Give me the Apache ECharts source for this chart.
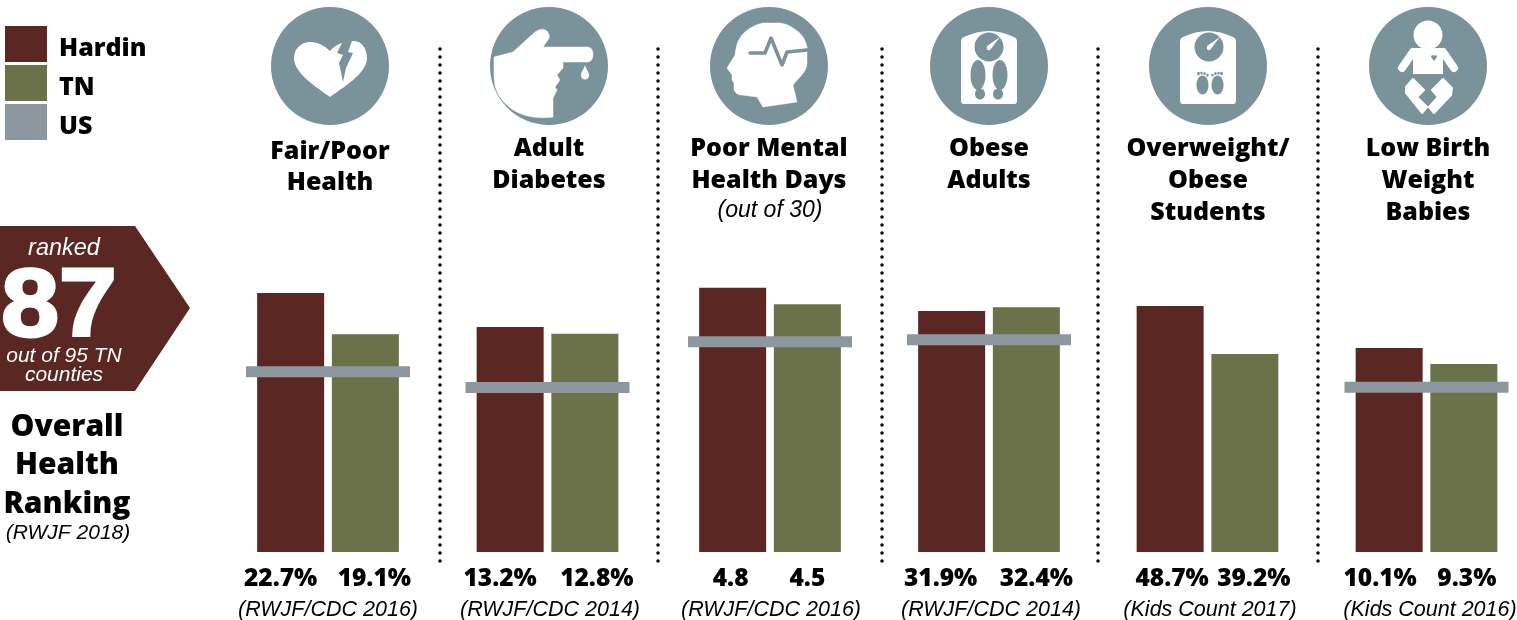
<!DOCTYPE html>
<html><head><meta charset="utf-8">
<style>html,body{margin:0;padding:0;background:#fff}#c{width:1517px;height:620px}</style>
<script src="https://cdn.jsdelivr.net/npm/echarts@6/dist/echarts.min.js"></script>
</head><body><div id="c"></div>
<script>
// ---- data ----
const seriesNames = ['Hardin', 'TN', 'US'];
const panels = ['Fair/Poor Health', 'Adult Diabetes', 'Poor Mental Health Days', 'Obese Adults', 'Overweight/Obese Students', 'Low Birth Weight Babies'];
const hardin = [22.7, 13.2, 4.8, 31.9, 48.7, 10.1];
const tn = [19.1, 12.8, 4.5, 32.4, 39.2, 9.3];
const us = [15.8, 9.65, 3.82, 28.1, null, 8.15];
const units = ['%', '%', '', '%', '%', '%'];
const sources = ['(RWJF/CDC 2016)', '(RWJF/CDC 2014)', '(RWJF/CDC 2016)', '(RWJF/CDC 2014)', '(Kids Count 2017)', '(Kids Count 2016)'];
const titleLines = [['Fair/Poor', 'Health'], ['Adult', 'Diabetes'], ['Poor Mental', 'Health Days'], ['Obese', 'Adults'], ['Overweight/', 'Obese', 'Students'], ['Low Birth', 'Weight', 'Babies']];

// ---- layout ----
const axisMax = [26.3, 17.6, 5.45, 39.7, 59.4, 14.85];
const gridLeft = [246, 465.5, 688, 907, 1125.5, 1344.5];
const labelDx = [[-10, 9], [-10, 12], [-2, 0], [-11, 10], [2, 9], [-9, 3]];
const iconX = [330, 549, 769, 989, 1208, 1428];
const titleY = [[152, 183], [149, 181], [149, 181], [149, 181], [149, 181, 213], [149, 181, 213]];
const sourceX = [328, 550, 771, 991, 1210, 1430];
const dividerX = [440, 658, 882, 1098, 1318];
const C = {h: '#5a2722', t: '#6b7149', u: '#8d979f', icon: '#7a9299'};
const HEAD = '"Open Sans", Lato, sans-serif';
const ARIAL = '"Liberation Sans", Arial, sans-serif';

const grid = [], xAxis = [], yAxis = [], series = [];
panels.forEach((p, i) => {
  grid.push({left: gridLeft[i], top: 252, width: 164, height: 300});
  xAxis.push({type: 'category', gridIndex: i, data: [p], show: false});
  yAxis.push({type: 'value', gridIndex: i, min: 0, max: axisMax[i], show: false});
  const bar = (name, vals, color, k) => ({
    name, type: 'bar', xAxisIndex: i, yAxisIndex: i, data: [vals[i]], barWidth: 67, barGap: '11.5%',
    itemStyle: {color}, silent: true,
    label: {show: true, position: 'bottom', distance: 15, offset: [labelDx[i][k], 0],
      formatter: () => vals[i].toFixed(1) + units[i],
      fontFamily: HEAD, fontWeight: 800, fontSize: 24.5, color: '#000', lineHeight: 24}
  });
  series.push(bar('Hardin', hardin, C.h, 0), bar('TN', tn, C.t, 1));
  series.push({name: 'US', type: 'line', xAxisIndex: i, yAxisIndex: i, data: [us[i]], z: 5, silent: true,
    symbol: 'rect', symbolSize: [164, 11], showSymbol: true, itemStyle: {color: C.u}, lineStyle: {width: 0}});
});

// ---- decoration ----
const txt = (t, x, y, font, size, weight, color, style, extra) => Object.assign({
  type: 'text', x, y, silent: true,
  style: {text: t, x: 0, y: 0, textAlign: 'center', textVerticalAlign: 'middle', fill: color || '#000',
    font: (style || 'normal') + ' ' + (weight || 'normal') + ' ' + size + 'px ' + font}
}, extra || {});
const white = '#fff', ic = C.icon;
let pathCount = 0;
const P = (d, fill, soft) => {
  const name = 'iconPath' + (pathCount++);
  echarts.graphic.registerShape(name, echarts.graphic.extendPath(d, {}));
  const f = fill || white;
  return {type: name, style: soft ? {fill: f, stroke: f, lineWidth: soft, lineJoin: 'round'} : {fill: f}, silent: true};
};
const E = (cx, cy, rx, ry, fill) => ({type: 'ellipse', shape: {cx, cy, rx, ry}, style: {fill: fill || white}, silent: true});
const L = (pts, w, col) => ({type: 'polyline', shape: {points: pts}, style: {stroke: col || ic, lineWidth: w, fill: null, lineCap: 'round', lineJoin: 'round'}, silent: true});
const scaleBody = 'M-25 -29 Q0 -41 25 -29 Q28 -28 28 -24 L28 35 Q28 38 25 38 L-25 38 Q-28 38 -28 35 L-28 -24 Q-28 -28 -25 -29 Z';
const gauge = (cx) => [E(cx, -19, 14.5, 14.5, ic), P(`M${cx - 2} -20 L${cx + 11} -29 L${cx + 1} -16 Q${cx - 3} -15 ${cx - 2} -20 Z`)];
const toes = (cx, dir) => [E(cx - 5 * dir, 9, 1.2, 1.6, ic), E(cx - 2 * dir, 7.5, 1.2, 1.6, ic), E(cx + 1 * dir, 7, 1.2, 1.6, ic), E(cx + 4 * dir, 7.5, 1.4, 1.8, ic)];

const icons = [
  // heart with bolt
  [P('M0 31 C-12 22 -36 8 -36 -8 C-36 -18 -28 -24 -20 -24 C-12 -24 -5 -20 0 -15 C3 -19 8 -22 14 -24 L24 -25 C31 -25 37 -18 37 -8 C37 8 12 22 0 31 Z'),
   P('M13 -25 L7 -13 L13 -11 L9 -3 L13 16 L16 2 L23 -13 L18 -14 L22 -25 Z', ic)],
  // hand with drop
  [P('M-55 -9 L-36 -14 L-14 -34 Q-7 -39 -2 -35 Q2 -30 -1 -26 L-6 -19 L39 -19 Q44 -18 44 -12 Q44 -5 39 -4 L14 -4 L14 2 L8 9 L11 14 L6 21 L8 24 L4 32 L4 51 Q-20 54 -36 44 Q-55 31 -55 11 Z', null, 0.5),
   P('M36 -1 C37 3 40 6 40 9 C40 12 38 13.5 36 13.5 C34 13.5 32 12 32 9 C32 6 35 3 36 -1 Z')],
  // head with pulse
  [P('M-6 -43 C-16 -41 -26 -34 -29 -28 C-33 -22 -33 -16 -34 -11 L-42 2 L-37 9 L-37 14 L-35 17 L-35 24 Q-33 29 -27 29 L-12 31 L-6 41 L28 36 L24 19 C30 11 38 6 38 -3 L38 -19 C36 -28 32 -33 24 -38 C20 -41 16 -42 11 -43 Z', null, 0.5),
   L([[-19, -13], [-4, -13], [2, -28], [13, -1], [18, -14], [38, -16]], 3.5)],
  // scale, big feet
  [P(scaleBody)].concat(gauge(0), [
   E(-11, 9, 7.5, 15, ic), E(11, 9, 7.5, 15, ic), E(-9, 28, 5, 5.5, ic), E(9, 28, 5, 5.5, ic)]),
  // scale, small feet
  [P(scaleBody)].concat(gauge(1), [
   E(-5.5, 19, 6, 9.5, ic), E(9.5, 19, 6, 9.5, ic)], toes(-5.5, -1), toes(9.5, 1)),
  // baby
  [E(0, -31, 14.5, 14.5),
   P('M-15 -18 L15 -18 L15 8 L-15 8 Z'),
   L([[-15, -14], [-26, 2]], 8, white), L([[15, -14], [26, 2]], 8, white),
   P('M6 -5 L3 -9 Q3 -11 5 -11 L6 -10 L7 -11 Q9 -11 9 -9 Z', ic),
   P('M-15 13 L-4 24 L-11 31 L-1 41 L-6 47 L-22 27 L-22 21 Z', null, 2),
   P('M15 13 L24 22 L23 29 L6 47 L1 41 L10 31 L4 24 Z', null, 2)]
];

const gfx = [];
gfx.push({type: 'polygon', silent: true, shape: {points: [[0, 226], [135, 226], [190, 308], [135, 391], [0, 391]]}, style: {fill: C.h}});
gfx.push(txt('ranked', 64, 248, ARIAL, 23.5, 'normal', '#fff', 'italic'));
const eightSeven = txt('87', 59, 309, ARIAL, 97, 'bold', '#fff', 'normal', {scaleX: 1.07});
eightSeven.style.stroke = '#fff'; eightSeven.style.lineWidth = 3;
gfx.push(eightSeven);
gfx.push(txt('out of 95 TN', 64, 356, ARIAL, 21, 'normal', '#fff', 'italic'));
gfx.push(txt('counties', 64, 375, ARIAL, 21, 'normal', '#fff', 'italic'));
['Overall', 'Health', 'Ranking'].forEach((t, k) => gfx.push(txt(t, 67, [427, 465, 504][k], HEAD, 30, 800)));
gfx.push(txt('(RWJF 2018)', 68, 533, ARIAL, 21, 'normal', '#000', 'italic'));
dividerX.forEach(x => gfx.push({type: 'line', silent: true, shape: {x1: x, y1: 49, x2: x, y2: 563},
  style: {stroke: '#000', lineWidth: 3.5, lineCap: 'round', lineDash: [0, 8]}}));
iconX.forEach((x, i) => {
  gfx.push({type: 'group', x, y: 66, children: [{type: 'circle', shape: {cx: 0, cy: 0, r: 59}, style: {fill: C.icon}, silent: true}].concat(icons[i])});
  titleLines[i].forEach((t, k) => gfx.push(txt(t, x, titleY[i][k], HEAD, 25, 800)));
  gfx.push(txt(sources[i], sourceX[i], 610, ARIAL, 21.5, 'normal', '#000', 'italic'));
});
gfx.push(txt('(out of 30)', 770, 211, ARIAL, 23, 'normal', '#000', 'italic'));

const chart = echarts.init(document.getElementById('c'), null, {renderer: 'canvas'});
chart.setOption({
  animation: false, backgroundColor: '#fff',
  legend: {left: 5, top: 26, padding: 0, orient: 'vertical', itemWidth: 42, itemHeight: 36, itemGap: 3, selectedMode: false,
    icon: 'rect', data: seriesNames.map(n => ({name: n, icon: 'rect'})),
    formatter: n => '{a|' + n + '}',
    textStyle: {rich: {a: {fontFamily: HEAD, fontWeight: 800, fontSize: 25, color: '#000', padding: [9, 0, 0, 7]}}}},
  grid, xAxis, yAxis, series, graphic: {elements: gfx}
});
</script></body></html>
